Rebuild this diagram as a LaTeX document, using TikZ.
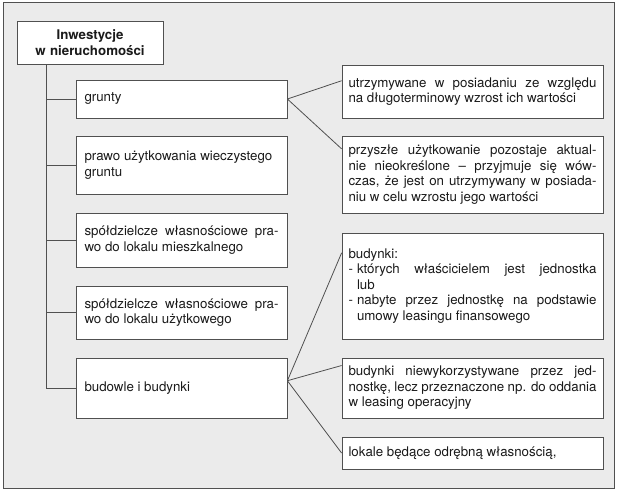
\documentclass[tikz,border=0pt]{standalone}
\usepackage{fontspec}
\setmainfont{TeX Gyre Heros}
\usepackage{xcolor}
\usepackage{tikz}
\usetikzlibrary{calc}

\definecolor{panel}{HTML}{EBEBEB}
\definecolor{edge}{HTML}{505050}
\definecolor{ink}{HTML}{1A1A1A}

\newcommand{\boxfont}{\fontsize{13.3}{15.5}\selectfont\tolerance=9999\hyphenpenalty=10000}
\newcommand{\dashitem}{\makebox[8.5pt][l]{-}}
\newcommand{\dashhang}{\hspace*{8.5pt}}

\tikzset{
  box/.style={draw=edge, fill=white, line width=0.8pt, text=ink, inner ysep=0pt, font=\boxfont},
  leftbox/.style={box, minimum width=211pt, text width=194pt, inner xsep=8.5pt, align=justify},
  rightbox/.style={box, minimum width=261pt, text width=248pt, inner xsep=6.5pt, align=justify},
  headbox/.style={box, minimum width=146pt, minimum height=43pt, text width=140pt, inner xsep=3pt, align=center, font=\boxfont\bfseries},
  link/.style={draw=edge, line width=0.8pt},
}

\begin{document}
\begin{tikzpicture}[x=1pt,y=-1pt]
      \useasboundingbox (0,0) rectangle (620,491); % adjust to fit
      \draw[draw=edge, fill=panel, line width=0.8pt] (3,2) rectangle (614,488);

      \node[headbox] (head) at (90,42.5) {Inwestycje\\ w nieruchomości};

      \node[leftbox, minimum height=38pt] (l1) at (181.5,99) {grunty};
      \node[leftbox, minimum height=58pt] (l2) at (181.5,165) {prawo użytkowania wieczystego\\ gruntu};
      \node[leftbox, minimum height=54pt] (l3) at (181.5,240) {spółdzielcze własnościowe pra-\linebreak wo do lokalu mieszkalnego};
      \node[leftbox, minimum height=53pt] (l4) at (181.5,312.5) {spółdzielcze własnościowe pra-\linebreak wo do lokalu użytkowego};
      \node[leftbox, minimum height=60pt] (l5) at (181.5,388) {budowle i budynki};

      \node[rightbox, minimum height=53pt] (r1) at (472.5,91.5) {utrzymywane w posiadaniu ze względu\linebreak na długoterminowy wzrost ich wartości};
      \node[rightbox, minimum height=77pt] (r2) at (472.5,174.5) {przyszłe użytkowanie pozostaje aktual-\linebreak nie nieokreślone – przyjmuje się wów-\linebreak czas, że jest on utrzymywany w posiada-\linebreak niu w celu wzrostu jego wartości};
      \node[rightbox, minimum height=106pt] (r3) at (472.5,286) {budynki:\\ \dashitem których właścicielem jest jednostka\linebreak \dashhang lub\\ \dashitem nabyte przez jednostkę na podstawie\linebreak \dashhang umowy leasingu finansowego};
      \node[rightbox, minimum height=60pt] (r4) at (472.5,388) {budynki niewykorzystywane przez jed-\linebreak nostkę, lecz przeznaczone np. do oddania\linebreak w leasing operacyjny};
      \node[rightbox, minimum height=32pt] (r5) at (472.5,453) {lokale będące odrębną własnością,};

      \coordinate (trunk) at ($(head.south west)+(30,0)$);
      \draw[link] (trunk) |- (l5.west);
      \foreach \n in {l1,l2,l3,l4}
        \draw[link] (trunk |- \n.west) -- (\n.west);

      \coordinate (fork1) at (l1.east);
      \coordinate (fork2) at ($(l5.north east)!0.38!(l5.south east)$);
      \coordinate (in1) at ($(r1.north west)!0.30!(r1.south west)$);
      \coordinate (in2) at ($(r2.north west)!0.17!(r2.south west)$);
      \coordinate (in3) at ($(r3.north west)!0.19!(r3.south west)$);
      \coordinate (in4) at ($(r4.north west)!0.13!(r4.south west)$);
      \coordinate (in5) at (r5.west);

      \draw[link] (fork1) -- (in1);
      \draw[link] (fork1) -- (in2);
      \draw[link] (fork2) -- (in3);
      \draw[link] (fork2) -- (in4);
      \draw[link] (fork2) -- (in5);
\end{tikzpicture}
\end{document}
